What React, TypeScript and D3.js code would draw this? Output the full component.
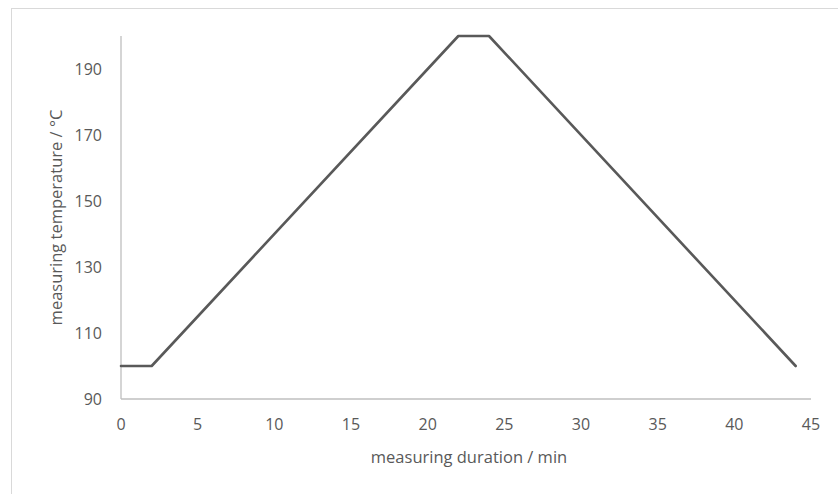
import React, { useEffect, useRef } from 'react';
import * as d3 from 'd3';

// measuring program: time (min) vs temperature (°C)
const durations = [0, 2, 22, 24, 44];
const temperatures = [100, 100, 200, 200, 100];
const xTicks = [0, 5, 10, 15, 20, 25, 30, 35, 40, 45];
const yTicks = [90, 110, 130, 150, 170, 190];

const App: React.FC = () => {
    const ref = useRef<SVGSVGElement | null>(null);

    useEffect(() => {
        if (!ref.current) return;
        const svg = d3.select(ref.current);
        svg.selectAll("*").remove();

        const width = 838;
        const height = 494;
        const margin = { top: 36, right: 27, bottom: 95, left: 121 };
        const font = "'Open Sans', sans-serif";
        const textColor = "#595959";
        const axisColor = "#bfbfbf";

        // chart frame
        svg.append("rect")
            .attr("x", 11.5).attr("y", 8.5)
            .attr("width", 900).attr("height", 600)
            .attr("fill", "#fff")
            .attr("stroke", "#d9d9d9")
            .attr("stroke-width", 1);

        const xScale = d3.scaleLinear()
            .domain([0, 45])
            .range([margin.left, width - margin.right]);

        const yScale = d3.scaleLinear()
            .domain([90, 200])
            .range([height - margin.bottom, margin.top]);

        const data = durations.map((d, i) => ({ t: d, temp: temperatures[i] }));

        // axes lines
        svg.append("line")
            .attr("x1", xScale(0)).attr("x2", xScale(45))
            .attr("y1", yScale(90)).attr("y2", yScale(90))
            .attr("stroke", axisColor).attr("stroke-width", 1.3);
        svg.append("line")
            .attr("x1", xScale(0)).attr("x2", xScale(0))
            .attr("y1", yScale(90)).attr("y2", yScale(200))
            .attr("stroke", axisColor).attr("stroke-width", 1.3);

        // tick labels
        svg.append("g").selectAll("text")
            .data(xTicks)
            .join("text")
            .attr("x", d => xScale(d))
            .attr("y", yScale(90) + 31)
            .attr("text-anchor", "middle")
            .attr("font-family", font)
            .attr("font-size", 16)
            .attr("fill", textColor)
            .text(d => d);

        svg.append("g").selectAll("text")
            .data(yTicks)
            .join("text")
            .attr("x", xScale(0) - 19)
            .attr("y", d => yScale(d) + 6)
            .attr("text-anchor", "end")
            .attr("font-family", font)
            .attr("font-size", 16)
            .attr("fill", textColor)
            .text(d => d);

        // the line
        const line = d3.line<{ t: number; temp: number }>()
            .x(d => xScale(d.t))
            .y(d => yScale(d.temp));

        svg.append("path")
            .datum(data)
            .attr("fill", "none")
            .attr("stroke", "#595959")
            .attr("stroke-width", 2.6)
            .attr("stroke-linejoin", "round")
            .attr("stroke-linecap", "round")
            .attr("d", line);

        // axis titles
        svg.append("text")
            .attr("x", 469)
            .attr("y", 463)
            .attr("text-anchor", "middle")
            .attr("font-family", font)
            .attr("font-size", 16.5)
            .attr("fill", textColor)
            .text("measuring duration / min");

        svg.append("text")
            .attr("transform", `translate(62,${(yScale(90) + yScale(200)) / 2}) rotate(-90)`)
            .attr("text-anchor", "middle")
            .attr("font-family", font)
            .attr("font-size", 16.5)
            .attr("fill", textColor)
            .text("measuring temperature / °C");
    }, []);

    return (
        <svg ref={ref} width={838} height={494}
            style={{ position: "absolute", left: 0, top: 0, background: "#fff" }} />
    );
};

export default App;
